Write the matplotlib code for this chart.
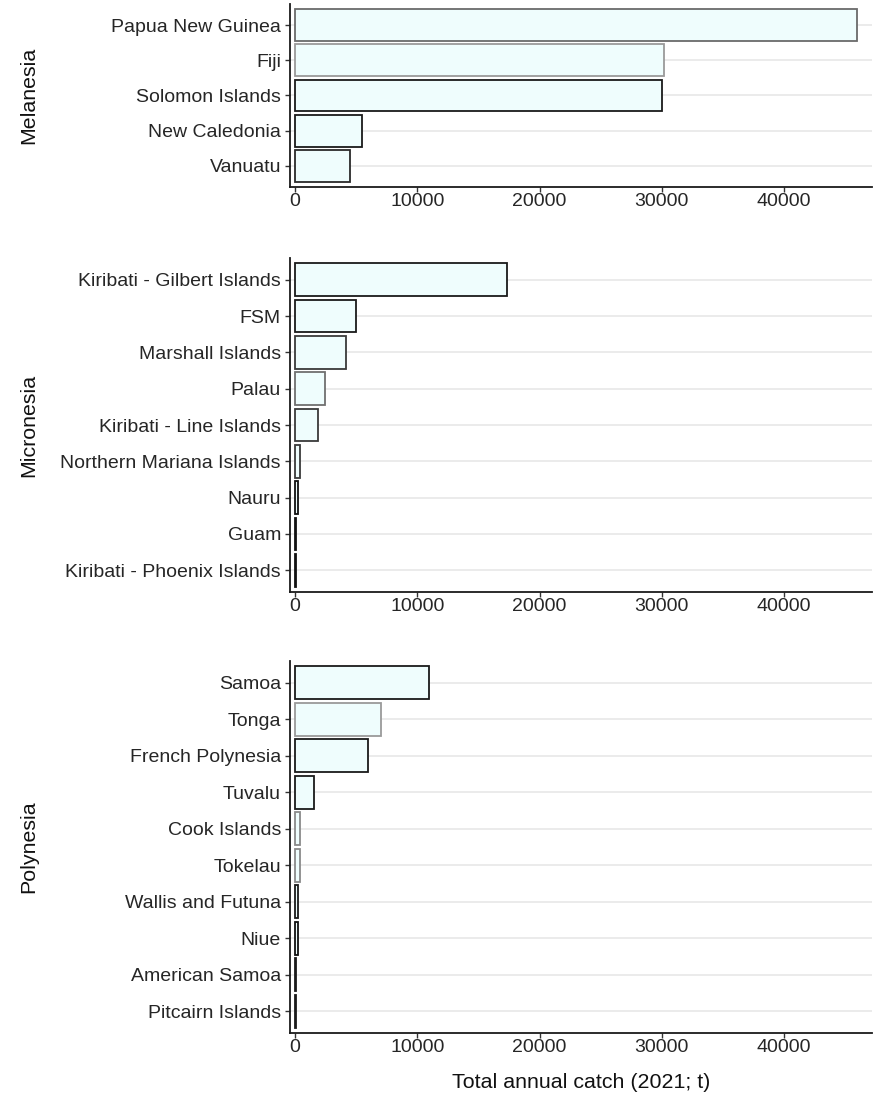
import matplotlib
matplotlib.use("Agg")
import matplotlib.pyplot as plt

plt.rcParams['font.family'] = ['Liberation Sans', 'DejaVu Sans']

# Total annual catch in 2021 (tonnes), by region
melanesia_names = ["Papua New Guinea", "Fiji", "Solomon Islands", "New Caledonia", "Vanuatu"]
melanesia_catch = [46000, 30200, 30050, 5450, 4500]

micronesia_names = ["Kiribati - Gilbert Islands", "FSM", "Marshall Islands", "Palau",
                    "Kiribati - Line Islands", "Northern Mariana Islands", "Nauru", "Guam",
                    "Kiribati - Phoenix Islands"]
micronesia_catch = [17300, 5000, 4200, 2450, 1880, 420, 220, 90, 50]

polynesia_names = ["Samoa", "Tonga", "French Polynesia", "Tuvalu", "Cook Islands", "Tokelau",
                   "Wallis and Futuna", "Niue", "American Samoa", "Pitcairn Islands"]
polynesia_catch = [10950, 7000, 5950, 1520, 400, 370, 260, 200, 100, 40]

region_names = ["Melanesia", "Micronesia", "Polynesia"]
x_ticks = [0, 10000, 20000, 30000, 40000]

# bar outline shades
melanesia_edges = ["#6a6a6a", "#9a9a9a", "#1a1a1a", "#1a1a1a", "#2a2a2a"]
micronesia_edges = ["#1a1a1a", "#1a1a1a", "#3a3a3a", "#707070", "#3a3a3a", "#3a3a3a",
                    "#111111", "#111111", "#111111"]
polynesia_edges = ["#1a1a1a", "#9a9a9a", "#1a1a1a", "#1a1a1a", "#8a8a8a", "#8a8a8a",
                   "#1a1a1a", "#111111", "#1a1a1a", "#1a1a1a"]

W, H = 873, 1096
fig = plt.figure(figsize=(W / 100, H / 100), dpi=100)

# panel extents in pixels: (top, bottom)
panel_px = [(4, 187), (258, 592), (661, 1033)]
left_px, right_px = 290, 872

panels = [
    (melanesia_names, melanesia_catch, melanesia_edges),
    (micronesia_names, micronesia_catch, micronesia_edges),
    (polynesia_names, polynesia_catch, polynesia_edges),
]

text_col = "#262626"
for (names, vals, edges), region, (top, bot) in zip(panels, region_names, panel_px):
    ax = fig.add_axes([left_px / W, 1 - bot / H, (right_px - left_px) / W, (bot - top) / H])
    n = len(names)
    ypos = list(range(n))
    ax.barh(ypos, vals, height=0.9, color="#effdfd", edgecolor=edges, linewidth=1.3, zorder=3)
    ax.set_yticks(ypos)
    ax.set_yticklabels(names)
    ax.set_ylim(n - 1 + 0.6, -0.6)
    ax.set_xlim(-420, 47200)
    ax.set_xticks(x_ticks)
    ax.set_xticklabels([str(t) for t in x_ticks])
    ax.grid(axis="y", color="#e6e6e6", linewidth=1.1, zorder=0)
    ax.grid(axis="x", visible=False)
    for s in ["top", "right"]:
        ax.spines[s].set_visible(False)
    for s in ["left", "bottom"]:
        ax.spines[s].set_linewidth(1.3)
        ax.spines[s].set_color("#1a1a1a")
    ax.tick_params(axis="both", labelsize=14, colors="#333333", length=3.5, width=1.0,
                   labelcolor=text_col)
    ax.tick_params(axis="y", pad=3)
    ax.tick_params(axis="x", pad=0.5)
    ax.set_ylabel(region, fontsize=15.4, color="#111111")
    ax.yaxis.set_label_coords(-(left_px - 38) / (right_px - left_px), 0.5)

fig.text((left_px + right_px) / 2 / W, 1 - 1083 / H, "Total annual catch (2021; t)",
         ha="center", va="center", fontsize=15.4, color="#111111")

fig.savefig("out.png", dpi=100)
